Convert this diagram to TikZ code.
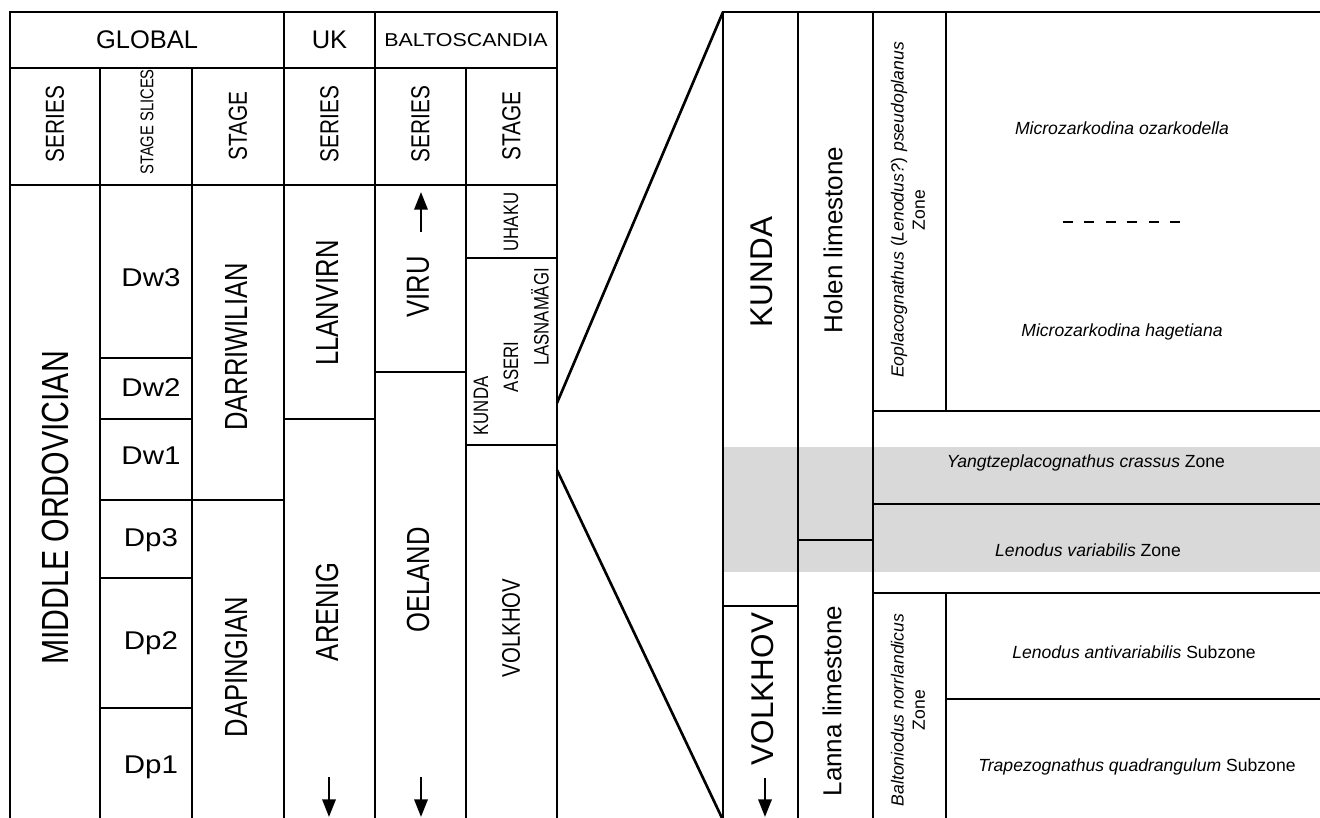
\documentclass[tikz,border=0pt]{standalone}
\usepackage{fontspec}
\setmainfont{Liberation Sans}
\newfontfamily\narrowface[FakeStretch=0.8]{Liberation Sans}
\newfontfamily\wideface[FakeStretch=1.15]{Liberation Sans}
\usepackage{tikz}
\usetikzlibrary{arrows.meta}
\definecolor{bandgray}{HTML}{D9D9D9}

\begin{document}
\begin{tikzpicture}[x=0.02cm,y=-0.02cm,
  heavy/.style={line width=1.5pt},
  light/.style={line width=0.9pt},
  arr/.style={-{Triangle[length=10pt,width=7.5pt]},line width=1.5pt},
  lab/.style={inner sep=0pt,align=center},
  vlab/.style={lab,rotate=90},
  unit/.style={vlab,font=\narrowface\fontsize{18.2}{20}\selectfont},
  subunit/.style={vlab,font=\narrowface\fontsize{11.9}{13}\selectfont},
  head/.style={vlab,font=\narrowface\fontsize{14.8}{16}\selectfont},
  slice/.style={lab,font=\wideface\fontsize{14.6}{16}\selectfont},
  zone/.style={lab,font=\fontsize{10}{12}\selectfont}]
\useasboundingbox (0,0) rectangle (1320,818);

% left table
\draw[heavy] (10,818) -- (10,12) -- (557,12) -- (557,818);
\draw[light] (10,68) -- (557,68) (10,185) -- (557,185);
\foreach \x in {284,375} \draw[light] (\x,12) -- (\x,818);
\foreach \x in {100,192,466} \draw[light] (\x,68) -- (\x,818);
\foreach \y in {358,419,500,578,708} \draw[light] (100,\y) -- (192,\y);
\draw[light] (192,500) -- (284,500) (284,419) -- (375,419) (375,372) -- (466,372);
\draw[light] (466,258) -- (557,258) (466,445) -- (557,445);

\node[lab,font=\fontsize{14.5}{16}\selectfont] (glob) at (147,40) {GLOBAL};
\node[lab,font=\fontsize{14.5}{16}\selectfont] (uk) at (329.5,40) {UK};
\node[lab,font=\wideface\fontsize{10.6}{12}\selectfont] (balto) at (466,40) {BALTOSCANDIA};
\node[head] (gser) at (55,124) {SERIES};
\node[vlab,font=\narrowface\fontsize{10.5}{12}\selectfont] (gsli) at (147,122) {STAGE SLICES};
\node[head] (gsta) at (238,126) {STAGE};
\node[head] (user) at (329.5,124) {SERIES};
\node[head] (bser) at (420.5,124) {SERIES};
\node[head] (bsta) at (511.5,126) {STAGE};

\node[vlab,font=\narrowface\fontsize{21.5}{24}\selectfont] (mord) at (55,508) {MIDDLE ORDOVICIAN};
\node[slice] (dw3) at (151,278) {Dw3};
\node[slice] (dw2) at (151,388) {Dw2};
\node[slice] (dw1) at (151,456) {Dw1};
\node[slice] (dp3) at (151,540) {Dp3};
\node[slice] (dp2) at (151,643) {Dp2};
\node[slice] (dp1) at (151,767) {Dp1};
\node[unit] (darr) at (236,347) {DARRIWILIAN};
\node[unit] (dapi) at (236,667) {DAPINGIAN};
\node[unit] (llan) at (327,303) {LLANVIRN};
\node[unit] (aren) at (327,612) {ARENIG};
\node[unit] (viru) at (418,287) {VIRU};
\node[unit] (oela) at (418,580) {OELAND};
\node[subunit] (uhak) at (511,222) {UHAKU};
\node[subunit] (kun) at (481,406) {KUNDA};
\node[subunit] (aser) at (511,367) {ASERI};
\node[subunit] (lasn) at (540,317) {LASNAMÄGI};
\node[vlab,font=\narrowface\fontsize{14.5}{16}\selectfont] (volk) at (511,628) {VOLKHOV};

\draw[arr] (421,232) -- (421,192);
\draw[arr] (329,777) -- (329,817);
\draw[arr] (421,777) -- (421,817);

% enlarged interval
\fill[bandgray] (723,447) rectangle (1320,572);
\draw[heavy] (1320,12) -- (723,12) -- (723,818);
\draw[light] (798,12) -- (798,818) (873,12) -- (873,818);
\draw[light] (946,12) -- (946,411) (946,593) -- (946,818);
\draw[heavy] (873,411) -- (1320,411) (873,593) -- (1320,593);
\draw[light] (873,504) -- (1320,504) (946,699) -- (1320,699);
\draw[light] (723,606) -- (798,606) (798,540) -- (873,540);

\coordinate (cutT) at (557,403);
\coordinate (cutB) at (557,470);
\coordinate (zoomT) at (723,12);
\coordinate (zoomB) at (722,818);
\draw[heavy] (cutT) -- (zoomT);
\draw[heavy] (cutB) -- (zoomB);

\node[vlab,font=\fontsize{17.9}{20}\selectfont] (kunda) at (762,272) {KUNDA};
\node[vlab,font=\fontsize{17.9}{20}\selectfont] (volkhov) at (763,689) {VOLKHOV};
\draw[arr] (765,778) -- (765,817);
\node[vlab,font=\fontsize{14.8}{16}\selectfont] (holen) at (833,240) {Holen limestone};
\node[vlab,font=\fontsize{14.8}{16}\selectfont] (lanna) at (832,701) {Lanna limestone};
\node[zone,rotate=90] (eopl) at (908,210) {\textit{Eoplacognathus} (\textit{Lenodus?}) \textit{pseudoplanus}\\Zone};
\node[zone,rotate=90] (bnor) at (908,710) {\textit{Baltoniodus norrlandicus}\\Zone};
\node[zone] (ozar) at (1122,128) {\textit{Microzarkodina ozarkodella}};
\node[zone] (hage) at (1122,332) {\textit{Microzarkodina hagetiana}};
\coordinate (dashL) at (1063,222);
\coordinate (dashR) at (1183,222);
\draw[line width=1.5pt,dash pattern=on 5.7pt off 6.5pt] (dashL) -- (dashR);
\node[zone] (yang) at (1086,463) {\textit{Yangtzeplacognathus crassus} Zone};
\node[zone] (lvar) at (1088,550) {\textit{Lenodus variabilis} Zone};
\node[zone] (lant) at (1134,652) {\textit{Lenodus antivariabilis} Subzone};
\node[zone] (trap) at (1137,767) {\textit{Trapezognathus quadrangulum} Subzone};
\end{tikzpicture}
\end{document}
